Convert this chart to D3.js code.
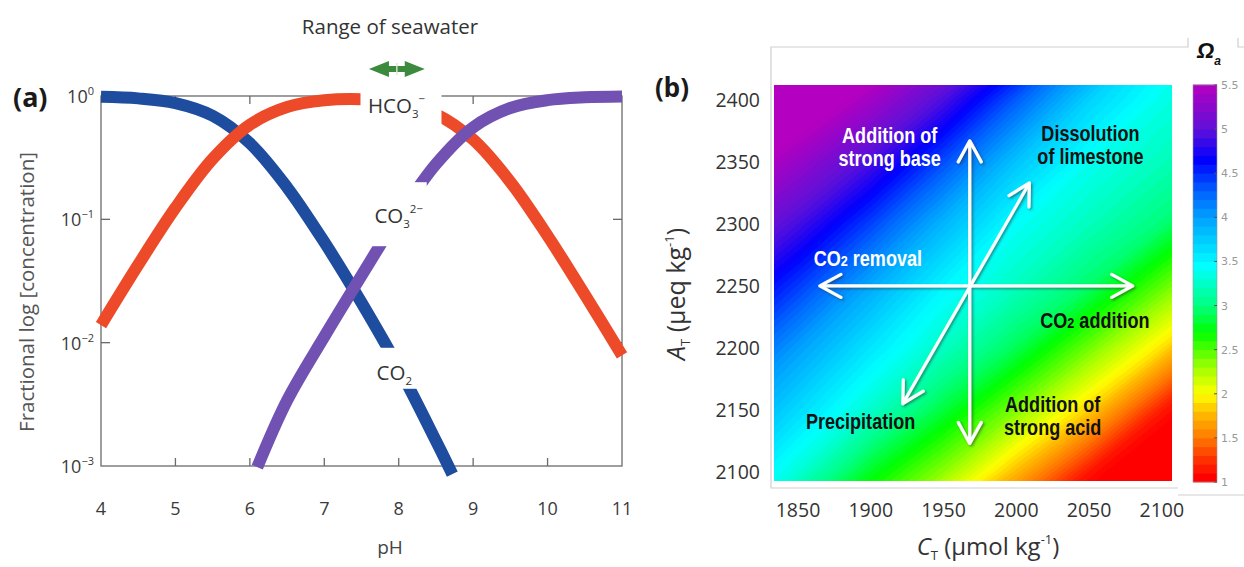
<!DOCTYPE html>
<html>
<head>
<meta charset="utf-8">
<script src="https://cdn.jsdelivr.net/npm/d3@7"></script>
<style>
  body { margin: 0; background: #fff; }
  svg { display: block; }
</style>
</head>
<body>
<div id="chart"></div>
<script>
// ---------- panel (a): carbonate speciation vs pH
var phTicks = [4, 5, 6, 7, 8, 9, 10, 11];
var decadeTicks = [0, -1, -2, -3];
var phHco3 = [4, 4.5, 5, 5.5, 6, 6.5, 7, 7.5, 8, 8.5, 9, 9.5, 10, 10.5, 11];
var hco3 = [0.0139, 0.0428, 0.124, 0.309, 0.585, 0.814, 0.923, 0.942, 0.883, 0.714, 0.443, 0.201, 0.0736, 0.0245, 0.0079];
var phCo2 = [4, 4.5, 5, 5.5, 6, 6.5, 7, 7.5, 8, 8.5, 8.72];
var co2 = [0.986, 0.957, 0.876, 0.691, 0.414, 0.182, 0.0654, 0.0211, 0.00625, 0.0016, 0.00086];
var phCo3 = [6.1, 6.5, 7, 7.5, 8, 8.5, 9, 9.5, 10, 10.5, 11];
var co3 = [0.00098, 0.0034, 0.0112, 0.035, 0.106, 0.28, 0.557, 0.799, 0.926, 0.976, 0.992];
var seawaterRange = [7.6, 8.35];

// ---------- panel (b): aragonite saturation over C_T / A_T
var ctTicks = [1850, 1900, 1950, 2000, 2050, 2100];
var atTicks = [2100, 2150, 2200, 2250, 2300, 2350, 2400];
var gridCt = [1800, 1850, 1900, 1950, 2000, 2050, 2100, 2150];
var gridAt = [2450, 2400, 2350, 2300, 2250, 2200, 2150, 2100, 2050];
var omegaGrid = [
  [6.58, 6.21, 5.85, 5.47, 4.94, 4.23, 3.61, 3.35],
  [6.12, 5.76, 5.38, 4.92, 4.31, 3.71, 3.37, 3.20],
  [5.67, 5.32, 4.91, 4.37, 3.79, 3.40, 3.21, 3.01],
  [5.28, 4.90, 4.41, 3.87, 3.43, 3.21, 2.98, 2.53],
  [4.89, 4.44, 3.94, 3.50, 3.22, 2.94, 2.47, 1.96],
  [4.47, 4.00, 3.59, 3.23, 2.89, 2.42, 1.91, 1.20],
  [4.06, 3.66, 3.26, 2.84, 2.38, 1.85, 1.16, 0.74],
  [3.73, 3.30, 2.78, 2.35, 1.77, 1.14, 0.74, 0.38],
  [3.39, 2.73, 2.32, 1.68, 1.12, 0.74, 0.38, 0.20]
];
var omegaTicks = [1, 1.5, 2, 2.5, 3, 3.5, 4, 4.5, 5, 5.5];
var cmapStops = [1.0, 1.05, 1.25, 1.5, 1.8, 2.0, 2.3, 2.7, 3.0, 3.45, 4.0, 4.3, 4.65, 5.0, 5.5];
var cmapColors = ["#ff0000", "#ff0000", "#ff3000", "#ff7800", "#ffc000", "#ffff00", "#a0ff00", "#00ff00",
                  "#00ff80", "#00ffff", "#00a0ff", "#0060ff", "#0000ff", "#6010d8", "#b400c0"];
// process arrows: [from, to] in (C_T, A_T)
var processArrows = [
  [[1968, 2123], [1968, 2367]],
  [[1865, 2250], [2080, 2250]],
  [[1922, 2155], [2009, 2333]]
];
var processLabels = [
  { lines: ["Addition of", "strong base"], at: [1913, 2365], fill: "#fff" },
  { lines: ["Dissolution", "of limestone"], at: [2051, 2367], fill: "#111" },
  { lines: ["CO2 removal"], at: [1898, 2266], fill: "#fff" },
  { lines: ["CO2 addition"], at: [2054, 2216], fill: "#111" },
  { lines: ["Precipitation"], at: [1893, 2135], fill: "#111" },
  { lines: ["Addition of", "strong acid"], at: [2025, 2148], fill: "#111" }
];

var W = 1244, H = 567;
var svg = d3.select("#chart").append("svg").attr("width", W).attr("height", H);
var FONT = "'Open Sans', 'Noto Sans', sans-serif";

/* ===================== panel (a) ===================== */
var xa = d3.scaleLinear().domain([4, 11]).range([101, 622]);
var ya = d3.scaleLog().domain([1e-3, 1]).range([466, 96]);
var ga = svg.append("g").attr("font-family", FONT);

// frame + inward ticks
var axisCol = "#6a6a6a";
ga.append("rect").attr("x", xa(4)).attr("y", ya(1)).attr("width", xa(11) - xa(4)).attr("height", ya(1e-3) - ya(1))
  .attr("fill", "none").attr("stroke", axisCol).attr("stroke-width", 1.3);
ga.selectAll(".xtb").data(phTicks.slice(1, -1)).enter().append("line")
  .attr("x1", d => xa(d)).attr("x2", d => xa(d)).attr("y1", ya(1e-3)).attr("y2", ya(1e-3) - 8)
  .attr("stroke", axisCol).attr("stroke-width", 1.3);
ga.selectAll(".xtt").data(phTicks.slice(1, -1)).enter().append("line")
  .attr("x1", d => xa(d)).attr("x2", d => xa(d)).attr("y1", ya(1)).attr("y2", ya(1) + 8)
  .attr("stroke", axisCol).attr("stroke-width", 1.3);
ga.selectAll(".ytl").data(decadeTicks.slice(1, -1)).enter().append("line")
  .attr("x1", xa(4)).attr("x2", xa(4) + 9).attr("y1", d => ya(Math.pow(10, d))).attr("y2", d => ya(Math.pow(10, d)))
  .attr("stroke", axisCol).attr("stroke-width", 1.3);
ga.selectAll(".ytr").data(decadeTicks.slice(1, -1)).enter().append("line")
  .attr("x1", xa(11)).attr("x2", xa(11) - 9).attr("y1", d => ya(Math.pow(10, d))).attr("y2", d => ya(Math.pow(10, d)))
  .attr("stroke", axisCol).attr("stroke-width", 1.3);

// tick labels
ga.selectAll(".xl").data(phTicks).enter().append("text")
  .attr("x", d => xa(d)).attr("y", 515).attr("text-anchor", "middle")
  .attr("font-size", 18).attr("fill", "#3a3a3a").text(d => d);
decadeTicks.forEach(function (e) {
  var t = ga.append("text").attr("x", 94).attr("y", ya(Math.pow(10, e)) + 7)
    .attr("text-anchor", "end").attr("font-size", 18).attr("fill", "#3a3a3a");
  t.append("tspan").text("10");
  t.append("tspan").attr("dy", -8).attr("font-size", 11).text(e === 0 ? "0" : "\u2212" + (-e));
});
ga.append("text").attr("x", 390).attr("y", 554).attr("text-anchor", "middle")
  .attr("font-size", 19).attr("fill", "#444").text("pH");
ga.append("text").attr("transform", "translate(34,292) rotate(-90)").attr("text-anchor", "middle")
  .attr("font-size", 20.5).attr("fill", "#555").text("Fractional log [concentration]");

// species curves
var lineA = d3.line().x(d => xa(d[0])).y(d => ya(d[1])).curve(d3.curveCatmullRom);
var species = [
  { ph: phCo2, val: co2, color: "#1e4c9e" },
  { ph: phHco3, val: hco3, color: "#ec4a28" },
  { ph: phCo3, val: co3, color: "#7152b3" }
];
ga.selectAll(".sp").data(species).enter().append("path")
  .attr("d", d => lineA(d3.zip(d.ph, d.val)))
  .attr("fill", "none").attr("stroke", d => d.color).attr("stroke-width", 12);

// labels sit in gaps cut into the curves
var spLabels = [
  { ph: 7.97, v: 0.83, main: "HCO", sub: "3", sup: "\u2212", box: [-36, -21, 81, 42] },
  { ph: 8.0, v: 0.106, main: "CO", sub: "3", sup: "2\u2212", box: [-28, -34, 56, 64] },
  { ph: 7.94, v: 0.0057, main: "CO", sub: "2", sup: "", box: [-23, -25, 48, 41] }
];
spLabels.forEach(function (l) {
  var cx = xa(l.ph), cy = ya(l.v);
  ga.append("rect").attr("x", cx + l.box[0]).attr("y", cy + l.box[1]).attr("width", l.box[2]).attr("height", l.box[3]).attr("fill", "#fff");
  var t = ga.append("text").attr("x", cx).attr("y", cy + 7).attr("text-anchor", "middle")
    .attr("font-size", 20.5).attr("fill", "#333");
  t.append("tspan").text(l.main);
  t.append("tspan").attr("font-size", 11.5).attr("dy", 5).text(l.sub);
  if (l.sup) t.append("tspan").attr("font-size", 11.5).attr("dy", -15).text(l.sup);
});

// seawater range
var sx0 = xa(seawaterRange[0]), sx1 = xa(seawaterRange[1]), sy = 69, smid = (sx0 + sx1) / 2;
ga.append("path").attr("fill", "#3b8a3d")
  .attr("d", "M" + sx0 + "," + sy + "L" + (sx0 + 20) + "," + (sy - 8) + "L" + (sx0 + 20) + "," + (sy - 3) +
    "L" + (sx1 - 20) + "," + (sy - 3) + "L" + (sx1 - 20) + "," + (sy - 8) + "L" + sx1 + "," + sy +
    "L" + (sx1 - 20) + "," + (sy + 8) + "L" + (sx1 - 20) + "," + (sy + 3) + "L" + (sx0 + 20) + "," + (sy + 3) +
    "L" + (sx0 + 20) + "," + (sy + 8) + "Z");
ga.append("line").attr("x1", smid).attr("x2", smid).attr("y1", sy - 6).attr("y2", sy + 6).attr("stroke", "#d8e8d8").attr("stroke-width", 1.4);
ga.append("text").attr("x", 390).attr("y", 34).attr("text-anchor", "middle")
  .attr("font-size", 20.5).attr("fill", "#333").text("Range of seawater");
ga.append("text").attr("x", 13).attr("y", 107).attr("font-size", 27).attr("font-weight", 700)
  .attr("fill", "#1a1a1a").attr("font-family", "'Noto Sans', sans-serif").text("(a)");

/* ===================== panel (b) ===================== */
var xb = d3.scaleLinear().domain([1833.5, 2107]).range([774, 1172]);
var yb = d3.scaleLinear().domain([2092.7, 2412]).range([481, 85]);
var color = d3.scaleLinear().domain(cmapStops).range(cmapColors).clamp(true);
var gb = svg.append("g").attr("font-family", FONT);

// light frame of the original figure
var frameCol = "#cfcfcf";
gb.append("path").attr("fill", "none").attr("stroke", frameCol).attr("stroke-width", 1.2)
  .attr("d", "M1188,38V47H771V488H1178 M1238,38V47H1244 M1178,495H1244");

var defs = svg.append("defs");
defs.append("clipPath").attr("id", "heatclip").append("rect")
  .attr("x", xb(1833.5)).attr("y", yb(2412)).attr("width", xb(2107) - xb(1833.5)).attr("height", yb(2092.7) - yb(2412));
var sh = defs.append("filter").attr("id", "shadow").attr("x", "-20%").attr("y", "-20%").attr("width", "140%").attr("height", "140%");
sh.append("feDropShadow").attr("dx", 1.5).attr("dy", 1.5).attr("stdDeviation", 1.2)
  .attr("flood-color", "#333").attr("flood-opacity", 0.55);

var heat = gb.append("g").attr("clip-path", "url(#heatclip)");
heat.append("rect").attr("x", 700).attr("y", 40).attr("width", 560).attr("height", 500).attr("fill", color(1));
var nx = gridCt.length, ny = gridAt.length;
var dC = gridCt[1] - gridCt[0], dA = gridAt[0] - gridAt[1];
var levels = d3.range(1, 5.5001, 0.05);
var bands = d3.contours().size([nx, ny]).thresholds(levels)(d3.merge(omegaGrid));
var toPlot = d3.geoTransform({
  point: function (gx, gy) {
    this.stream.point(xb(gridCt[0] + (gx - 0.5) * dC), yb(gridAt[0] - (gy - 0.5) * dA));
  }
});
var gpath = d3.geoPath(toPlot);
heat.selectAll(".band").data(bands).enter().append("path")
  .attr("d", gpath).attr("fill", d => color(Math.min(d.value + 0.025, 5.5)))
  .attr("stroke", d => color(Math.min(d.value + 0.025, 5.5))).attr("stroke-width", 0.6);

// process arrows
var arrows = gb.append("g").attr("filter", "url(#shadow)").attr("stroke", "#fff").attr("stroke-width", 3.2)
  .attr("fill", "none").attr("stroke-linecap", "round").attr("stroke-linejoin", "round");
function head(px, py, ang) {
  var L = 24, a = 0.5;
  return "M" + (px - L * Math.cos(ang - a)) + "," + (py - L * Math.sin(ang - a)) + "L" + px + "," + py +
    "L" + (px - L * Math.cos(ang + a)) + "," + (py - L * Math.sin(ang + a));
}
processArrows.forEach(function (ar) {
  var x0 = xb(ar[0][0]), y0 = yb(ar[0][1]), x1 = xb(ar[1][0]), y1 = yb(ar[1][1]);
  var ang = Math.atan2(y1 - y0, x1 - x0);
  arrows.append("path").attr("d", "M" + x0 + "," + y0 + "L" + x1 + "," + y1 + head(x1, y1, ang) + head(x0, y0, ang + Math.PI));
});

// process labels (narrow bold face)
processLabels.forEach(function (l) {
  var g = gb.append("g").attr("transform", "translate(" + xb(l.at[0]) + "," + yb(l.at[1]) + ") scale(0.84,1)");
  l.lines.forEach(function (s, i) {
    var t = g.append("text").attr("y", i * 23).attr("text-anchor", "middle").attr("font-family", "'Liberation Sans', Arial, sans-serif")
      .attr("font-weight", 700).attr("font-size", 21.5).attr("fill", l.fill);
    if (s.indexOf("CO2") === 0) {
      t.append("tspan").text("CO");
      t.append("tspan").attr("font-size", 15).text("2");
      t.append("tspan").text(s.slice(3));
    } else t.text(s);
  });
});

// axes labels
gb.selectAll(".xtl").data(ctTicks).enter().append("text")
  .attr("x", d => xb(d)).attr("y", 517).attr("text-anchor", "middle")
  .attr("font-size", 19.5).attr("fill", "#333").text(d => d);
gb.selectAll(".ytl").data(atTicks).enter().append("text")
  .attr("x", 760).attr("y", d => yb(d) + 7).attr("text-anchor", "end")
  .attr("font-size", 19.5).attr("fill", "#333").text(d => d);

var xt = gb.append("text").attr("x", 988).attr("y", 555).attr("text-anchor", "middle").attr("font-size", 24).attr("fill", "#333");
xt.append("tspan").attr("font-style", "italic").text("C");
xt.append("tspan").attr("font-size", 13).attr("dy", 5).text("T");
xt.append("tspan").attr("dy", -5).text(" (\u03bcmol kg");
xt.append("tspan").attr("font-size", 13).attr("dy", -11).text("-1");
xt.append("tspan").attr("dy", 11).text(")");

var yt = gb.append("text").attr("transform", "translate(685,294) rotate(-90)").attr("text-anchor", "middle")
  .attr("font-size", 25).attr("fill", "#333");
yt.append("tspan").attr("font-style", "italic").text("A");
yt.append("tspan").attr("font-size", 13).attr("dy", 5).text("T");
yt.append("tspan").attr("dy", -5).text(" (\u03bceq kg");
yt.append("tspan").attr("font-size", 13).attr("dy", -11).text("-1");
yt.append("tspan").attr("dy", 11).text(")");

gb.append("text").attr("x", 655).attr("y", 97).attr("font-size", 26).attr("font-weight", 700)
  .attr("fill", "#1a1a1a").attr("font-family", "'Noto Sans', sans-serif").text("(b)");

// colour bar
var yc = d3.scaleLinear().domain([1, 5.5]).range([482, 85]);
var cb = gb.append("g");
cb.selectAll("rect").data(d3.range(1, 5.5, 0.1)).enter().append("rect")
  .attr("x", 1193).attr("width", 24).attr("y", d => yc(Math.min(d + 0.1, 5.5)) - 0.4)
  .attr("height", d => yc(d) - yc(Math.min(d + 0.1, 5.5)) + 0.8).attr("fill", d => color(d + 0.05));
cb.append("rect").attr("x", 1193).attr("y", yc(5.5)).attr("width", 24).attr("height", yc(1) - yc(5.5))
  .attr("fill", "none").attr("stroke", "#999").attr("stroke-width", 0.6);
cb.selectAll(".ct").data(omegaTicks).enter().append("line")
  .attr("x1", 1214).attr("x2", 1217).attr("y1", d => yc(d)).attr("y2", d => yc(d)).attr("stroke", "#555");
cb.selectAll(".cl").data(omegaTicks).enter().append("text")
  .attr("x", 1221).attr("y", d => yc(d) + 4).attr("font-size", 11).attr("fill", "#999")
  .attr("font-family", "'DejaVu Sans', sans-serif").text(d => d);
var om = gb.append("text").attr("x", 1197).attr("y", 58).attr("font-size", 22).attr("font-weight", 700)
  .attr("font-style", "italic").attr("fill", "#111").attr("font-family", "'Liberation Sans', Arial, sans-serif");
om.append("tspan").text("\u03a9");
om.append("tspan").attr("font-size", 12).attr("dy", 7).text("a");
</script>
</body>
</html>
